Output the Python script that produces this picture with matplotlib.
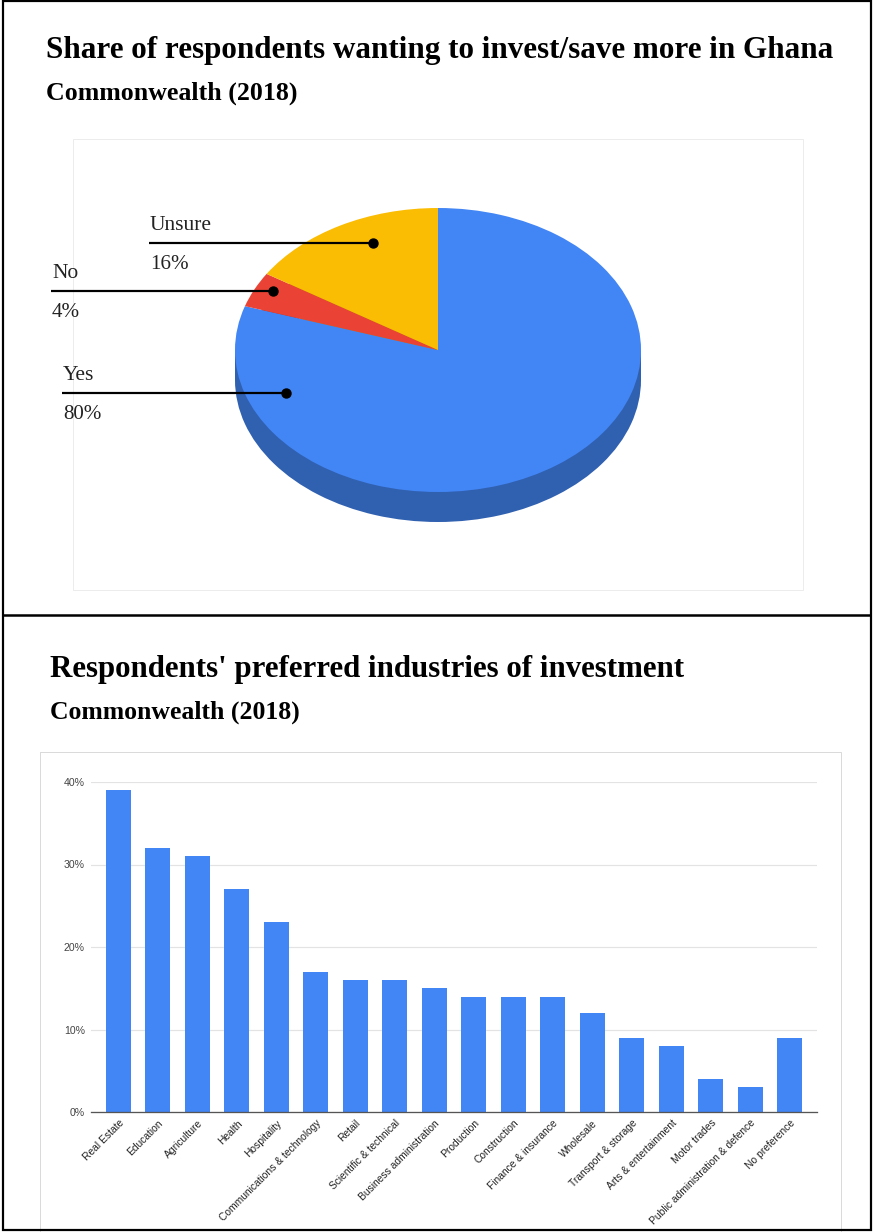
import matplotlib
matplotlib.use("Agg")
import matplotlib.pyplot as plt
from matplotlib.patches import Rectangle
import numpy as np

# ---- data -------------------------------------------------------------
pie_labels = ["Yes", "No", "Unsure"]
pie_values = [80, 4, 16]
pie_colors = ["#4285f4", "#ea4335", "#fbbc04"]
pie_side_colors = ["#3060b0", "#a8302a", "#b08503"]

industries = [
    "Real Estate", "Education", "Agriculture", "Health", "Hospitality",
    "Communications & technology", "Retail", "Scientific & technical",
    "Business administration", "Production", "Construction",
    "Finance & insurance", "Wholesale", "Transport & storage",
    "Arts & entertainment", "Motor trades",
    "Public administration & defence", "No preference",
]
industry_share = [39, 32, 31, 27, 23, 17, 16, 16, 15, 14, 14, 14, 12, 9, 8, 4, 3, 9]
y_ticks = [0, 10, 20, 30, 40]
y_tick_labels = ["0%", "10%", "20%", "30%", "40%"]

title_top = "Share of respondents wanting to invest/save more in Ghana"
title_bottom = "Respondents' preferred industries of investment"
subtitle = "Commonwealth (2018)"

# ---- figure in pixel units ---------------------------------------------
W, H = 873, 1232
DPI = 100
fig = plt.figure(figsize=(W / DPI, H / DPI), dpi=DPI)
fig.patch.set_facecolor("white")


def px_axes(x0, y0, x1, y1, **kw):
    return fig.add_axes([x0 / W, 1 - y1 / H, (x1 - x0) / W, (y1 - y0) / H], **kw)


def px_to_pt(px):
    return px * 72 / DPI


# overlay for frames, boxes and leader lines
over = px_axes(0, 0, W, H, zorder=5)
over.set_xlim(0, W)
over.set_ylim(H, 0)
over.axis("off")
over.patch.set_alpha(0)

# outer frame and divider
over.add_patch(Rectangle((3, 1), 868, 1229, fill=False, ec="black", lw=px_to_pt(2.2)))
over.plot([3, 871], [615, 615], color="black", lw=px_to_pt(2.5), solid_capstyle="butt")

# light chart containers
back = px_axes(0, 0, W, H, zorder=0)
back.set_xlim(0, W)
back.set_ylim(H, 0)
back.axis("off")
back.add_patch(Rectangle((73, 139), 730, 451, fill=False, ec="#ececec", lw=px_to_pt(1)))
back.add_patch(Rectangle((40, 752), 801, 500, fill=False, ec="#dadada", lw=px_to_pt(1)))

serif = ["Liberation Serif", "DejaVu Serif"]
sans = ["Liberation Sans", "DejaVu Sans"]

renderer = fig.canvas.get_renderer()


def fitted_text(x, y, s, width_px, size_guess, **kw):
    t = fig.text(x / W, 1 - y / H, s, fontsize=size_guess, **kw)
    w = t.get_window_extent(renderer=renderer).width
    t.set_fontsize(size_guess * width_px / w)
    return t


fitted_text(46, 58, title_top, 787, 20, family=serif, weight="bold", va="baseline", color="black")
fitted_text(46, 100, subtitle, 251, 15, family=serif, weight="bold", va="baseline", color="black")
fitted_text(50, 677, title_bottom, 634, 20, family=serif, weight="bold", va="baseline", color="black")
fitted_text(50, 719, subtitle, 250, 15, family=serif, weight="bold", va="baseline", color="black")

# ---- 3D-looking pie ------------------------------------------------------
cx, cy, rx, ry, depth = 438, 350, 203, 142, 30
ax_l, ax_r, ax_t, ax_b = 215, 661, 190, 545
pie_ax = px_axes(ax_l, ax_t, ax_r, ax_b, zorder=2)
pie_ax.axis("off")
d = depth / ry

# side wall: shifted copy of the pie plus the band joining both rims
pie_ax.pie(pie_values, colors=pie_side_colors, startangle=90, counterclock=False,
           radius=1, center=(0, -d), wedgeprops=dict(linewidth=0))
pie_ax.add_patch(Rectangle((-1, -d), 2, d, color=pie_side_colors[0], lw=0, zorder=0.5))
pie_ax.pie(pie_values, colors=pie_colors, startangle=90, counterclock=False,
           radius=1, wedgeprops=dict(linewidth=0))
pie_ax.set_xlim((ax_l - cx) / rx, (ax_r - cx) / rx)
pie_ax.set_ylim((cy - ax_b) / ry, (cy - ax_t) / ry)
pie_ax.set_aspect("auto")

# leader lines: anchor angle (clockwise from 12 o'clock), radius, line start x
label_anchor = {"Yes": (248, 0.81, 62), "No": (297, 0.91, 51), "Unsure": (337, 0.82, 149)}
for lab, val in zip(pie_labels, pie_values):
    ang, rad, x_start = label_anchor[lab]
    t = np.deg2rad(ang)
    px = cx + rx * rad * np.sin(t)
    py = cy - ry * rad * np.cos(t)
    over.plot([x_start, px], [py, py], color="black", lw=px_to_pt(2.2), solid_capstyle="butt")
    over.plot([px], [py], "o", color="black", ms=px_to_pt(9))
    over.text(x_start + 1, py - 13, lab, family=serif, fontsize=px_to_pt(21.5),
              color="#222222", va="baseline", ha="left")
    over.text(x_start + 1, py + 26, f"{val}%", family=serif, fontsize=px_to_pt(21),
              color="#222222", va="baseline", ha="left")

# ---- bar chart -----------------------------------------------------------
bar_ax = px_axes(91, 782, 817, 1112, zorder=2)
x = np.arange(len(industries))
bar_ax.bar(x, industry_share, width=0.635, color="#4285f4", zorder=3)
bar_ax.set_xlim(-0.695, len(industries) - 1 + 0.685)
bar_ax.set_ylim(0, 40)
bar_ax.set_yticks(y_ticks)
bar_ax.set_yticklabels(y_tick_labels, family=sans, fontsize=px_to_pt(10.5), color="#444444")
bar_ax.grid(axis="y", color="#e3e3e3", lw=px_to_pt(1.2), zorder=0)
bar_ax.set_axisbelow(True)
for s in ("top", "right", "left"):
    bar_ax.spines[s].set_visible(False)
bar_ax.spines["bottom"].set_color("#555555")
bar_ax.spines["bottom"].set_linewidth(px_to_pt(1.3))
bar_ax.spines["bottom"].set_zorder(4)
bar_ax.tick_params(axis="y", length=0, pad=px_to_pt(6))
bar_ax.tick_params(axis="x", length=0, pad=px_to_pt(6))
bar_ax.set_xticks(x)
bar_ax.set_xticklabels(industries, rotation=45, ha="right", va="top",
                       rotation_mode="anchor", family=sans,
                       fontsize=px_to_pt(10.2), color="#222222")
bar_ax.patch.set_alpha(0)

fig.savefig("out.png", dpi=DPI, facecolor="white")
